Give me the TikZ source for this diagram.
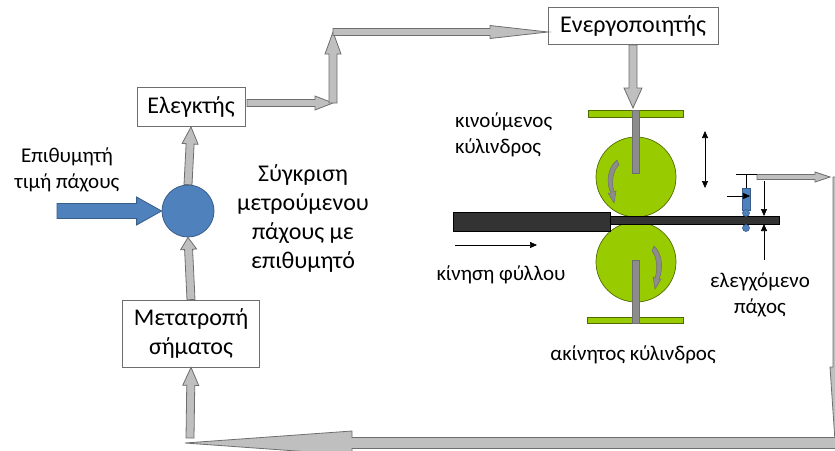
\documentclass[tikz,border=0pt]{standalone}
\usepackage{fontspec}
\setmainfont{Carlito}
\usetikzlibrary{calc,arrows.meta}

\definecolor{arrowgray}{HTML}{BFBFBF}
\definecolor{edgegray}{HTML}{6E6E6E}
\definecolor{rodgray}{HTML}{8C8C8C}
\definecolor{rollgreen}{HTML}{99CC00}
\definecolor{rolledge}{HTML}{4F6B00}
\definecolor{ctrlblue}{HTML}{4F81BD}
\definecolor{blueedge}{HTML}{385D8A}
\definecolor{sheetdark}{HTML}{333333}

% block arrow: #1 style, #2 start, #3 tip, #4 shaft half width, #5 head half width, #6 head length
\newcommand\blockarrow[6]{%
  \coordinate (ba-a) at #2;
  \coordinate (ba-b) at #3;
  \coordinate (ba-h) at ($(ba-b)!#6!(ba-a)$);
  \draw[#1]
    ($(ba-a)!#4!90:(ba-b)$) -- ($(ba-h)!#4!-90:(ba-a)$) -- ($(ba-h)!#5!-90:(ba-a)$)
    -- (ba-b) -- ($(ba-h)!#5!90:(ba-a)$) -- ($(ba-h)!#4!90:(ba-a)$)
    -- ($(ba-a)!#4!-90:(ba-b)$) -- cycle;
}

\tikzset{
  x=1pt, y=-1pt,
  grayarrow/.style={fill=arrowgray, draw=edgegray, line width=0.8pt, line join=miter},
  bluearrow/.style={fill=ctrlblue, draw=blueedge, line width=0.8pt},
  blockbox/.style={draw=edgegray, fill=white, line width=0.8pt, inner sep=0pt, align=center,
    font=\fontsize{24}{29}\selectfont},
  label/.style={inner sep=0pt, align=center, font=\fontsize{21}{26}\selectfont},
  bigtext/.style={inner sep=0pt, align=center, font=\fontsize{24}{29}\selectfont},
  rollpart/.style={fill=rollgreen, draw=rolledge, line width=0.7pt},
  rod/.style={fill=rodgray, draw=edgegray, line width=0.7pt},
  thin/.style={draw=black, line width=0.7pt},
  thinarrow/.style={draw=black, line width=0.7pt, -{Triangle[length=7pt,width=6pt]}},
}

\begin{document}
\begin{tikzpicture}
\useasboundingbox (0,0) rectangle (835,450);

% ---------------- control loop blocks ----------------
\node[blockbox, minimum width=108pt, minimum height=39pt] (ctrl) at (191,107) {Ελεγκτής};
\node[blockbox, minimum width=170pt, minimum height=37pt] (act) at (633,26) {Ενεργοποιητής};
\node[blockbox, minimum width=137pt, minimum height=67pt] (conv) at (191,333.5) {Μετατροπή\\σήματος};
\node[circle, fill=ctrlblue, draw=blueedge, line width=0.8pt, minimum size=52pt, inner sep=0pt] (cmp) at (188,211) {};

\node[label] (setp) at (67,170) {Επιθυμητή\\τιμή πάχους};
\node[bigtext] (cmptext) at (303,218) {Σύγκριση\\μετρούμενου\\πάχους με\\επιθυμητό};

% junction points of the routed arrows
\coordinate (j1) at (333,103);
\coordinate (j2) at (333,32);
\coordinate (ctrlout) at (247,103);
\coordinate (actin) at (548,32);
\coordinate (setin) at (57,211);
\coordinate (actout) at (633,45);
\coordinate (press) at (633,108);
\coordinate (sensout) at (757,177);
\coordinate (sensend) at (830,177);
\coordinate (rtop) at (841,177);
\coordinate (rtip) at (841,530);
\coordinate (bstart) at (850,443);
\coordinate (btip) at (185,443);
\coordinate (bup) at (190,438);

% set point into comparator
\blockarrow{bluearrow}{(setin)}{(cmp.west)}{7.5pt}{14pt}{25pt}
% comparator -> controller
\blockarrow{grayarrow}{(cmp.north)}{(ctrl.south)}{4pt}{8pt}{17pt}
% controller -> actuator
\blockarrow{grayarrow}{(ctrlout)}{(j1)}{3.5pt}{7pt}{18pt}
\blockarrow{grayarrow}{(j1)}{(j2)}{4pt}{8pt}{22pt}
\blockarrow{grayarrow}{(j2)}{(actin)}{3.5pt}{6.5pt}{58pt}
% actuator -> moving roll
\blockarrow{grayarrow}{(actout)}{(press)}{4pt}{9pt}{20pt}
% feedback path
\blockarrow{grayarrow}{(sensout)}{(sensend)}{2.5pt}{5pt}{15pt}
\blockarrow{grayarrow}{(rtop)}{(rtip)}{8pt}{11pt}{163pt}
\blockarrow{grayarrow}{(bstart)}{(btip)}{5.5pt}{12pt}{167pt}
\blockarrow{grayarrow}{(bup)}{(conv.south)}{4pt}{8pt}{18pt}
\blockarrow{grayarrow}{(conv.north)}{(cmp.south)}{4pt}{8pt}{12pt}

% ---------------- rolling mill ----------------
% upper (moving) roll
\draw[rollpart] (588,110) rectangle (683,117);
\draw[rollpart] (636,177) circle (40);
\draw[rod] (632,110) rectangle (639,173);
% lower (fixed) roll
\draw[rollpart] (587,317) rectangle (683,323);
\draw[rollpart] (636,262) circle (40);
\draw[rod] (632,260) rectangle (639,323);

% rotation marks on the rolls
\draw[rod, line width=0.5pt] (617,160) .. controls (607,168) and (606,184) .. (611,193)
  -- (608,193) -- (614,203) -- (616,191) -- (614,192) .. controls (611,182) and (613,170) .. (619,165) -- cycle;
\draw[rod, line width=0.5pt] (654,246) .. controls (663,254) and (663,270) .. (659,279)
  -- (661,279) -- (655,289) -- (653,277) -- (655,278) .. controls (658,270) and (657,257) .. (652,251) -- cycle;

% sheet: incoming (thick) and rolled (thin)
\draw[fill=sheetdark, draw=black, line width=0.5pt] (453,212) rectangle (610,231);
\draw[fill=sheetdark, draw=black, line width=0.5pt] (610,216) rectangle (779,224);

% thickness gauge
\draw[thin] (746,188) -- (746,174);
\draw[thin] (736,174) -- (757,174);
\draw[fill=ctrlblue, draw=blueedge, line width=0.6pt] (742,188) rectangle (750,210);
\draw[fill=ctrlblue, draw=blueedge, line width=0.6pt] (746,213) circle (3.5);
\draw[fill=ctrlblue, draw=blueedge, line width=0.6pt] (746,228) circle (3.5);
\coordinate (gaugein) at (727,196);
\coordinate (gaugetip) at (750,196);
\draw[thinarrow] (gaugein) -- (gaugetip);

% thickness dimension
\coordinate (dtop) at (764,181);
\coordinate (dtopend) at (764,216);
\coordinate (dbot) at (764,260);
\coordinate (dbotend) at (764,224);
\draw[thinarrow] (dtop) -- (dtopend);
\draw[thinarrow] (dbot) -- (dbotend);

% roll gap adjustment
\coordinate (adjt) at (705,131);
\coordinate (adjb) at (705,188);
\draw[thin, {Triangle[length=7pt,width=6pt]}-{Triangle[length=7pt,width=6pt]}] (adjt) -- (adjb);

% sheet motion
\coordinate (mvs) at (455,245);
\coordinate (mve) at (537,245);
\draw[thinarrow] (mvs) -- (mve);

% ---------------- labels ----------------
\node[label, align=left, anchor=west] (movroll) at (455,135) {κινούμενος\\κύλινδρος};
\node[label] (sheetmv) at (501,275) {κίνηση φύλλου};
\node[label] (thick) at (760,295) {ελεγχόμενο\\πάχος};
\node[label] (fixroll) at (633,355) {ακίνητος κύλινδρος};
\end{tikzpicture}
\end{document}
